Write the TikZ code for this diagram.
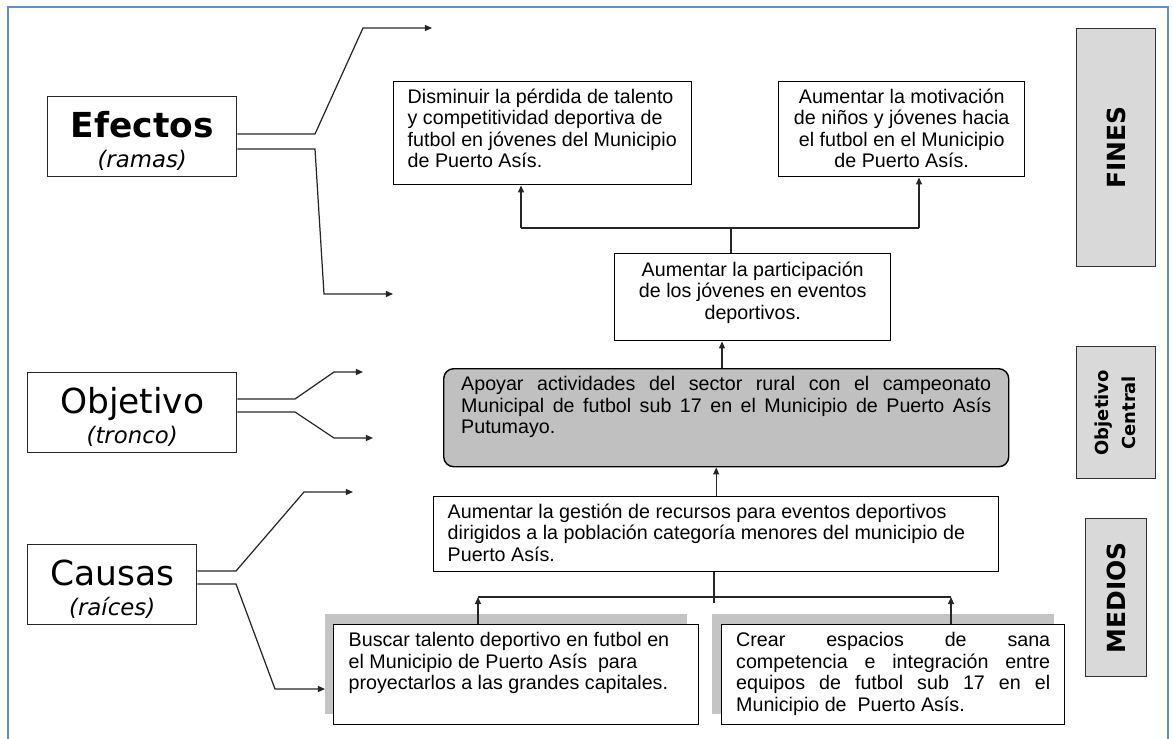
\documentclass[tikz,border=0pt]{standalone}
\usepackage{fontspec}
\setmainfont{Liberation Sans}
\newfontfamily\verdana{DejaVu Sans}
\usetikzlibrary{arrows.meta}

\newdimen\px
\px=0.02cm

\definecolor{marco}{RGB}{96,142,210}
\definecolor{grisobj}{RGB}{192,192,192}
\definecolor{grislado}{RGB}{217,217,217}
\definecolor{sombragris}{RGB}{196,196,196}

\newcommand{\textocaja}{\fontsize{11.2}{12.2}\selectfont}
\newcommand{\bloque}[4]{\parbox[c][#2\px][t]{#1\px}{\tolerance=10000\hbadness=10000\relax#3#4}}
\newcommand{\alto}{\rule{0pt}{34\px}}

\begin{document}
\begin{tikzpicture}[x=0.02cm,y=-0.02cm,
    caja/.style={draw=black,line width=0.8pt,fill=white,inner sep=0pt,anchor=north west,font=\textocaja},
    sombra/.style={fill=sombragris,inner sep=0pt,anchor=north west},
    etiqueta/.style={draw=black!85,line width=0.8pt,inner sep=0pt,anchor=north west,align=center,font=\verdana\fontsize{19.6}{17}\selectfont},
    lado/.style={draw=black!80,line width=0.8pt,fill=grislado,inner sep=0pt,anchor=north west,font=\verdana\bfseries},
    linea/.style={line width=0.7pt,black!85},
    flecha/.style={line width=0.7pt,black!85,-{Triangle[length=4pt,width=3.4pt]}}]
\useasboundingbox (0,0) rectangle (1173,738);
\draw[marco,line width=1.2pt] (8,7) rectangle (1168,760);

\node[etiqueta,minimum width=189\px,minimum height=80\px] (efectos) at (47,96) {\alto{\bfseries Efectos}\\{\fontsize{13}{17}\selectfont\itshape (ramas)}};
\node[etiqueta,minimum width=209\px,minimum height=80\px] (objetivo) at (27,372) {\alto Objetivo\\{\fontsize{13}{17}\selectfont\itshape (tronco)}};
\node[etiqueta,minimum width=169\px,minimum height=80\px] (causas) at (27,544) {\alto Causas\\{\fontsize{13}{17}\selectfont\itshape (raíces)}};

\node[lado,minimum width=79\px,minimum height=238\px] (fines) at (1076,28) {\rotatebox{90}{\fontsize{14.2}{16}\selectfont FINES}};
\node[lado,minimum width=79\px,minimum height=132\px] (central) at (1076,346) {\rotatebox{90}{\fontsize{10.2}{16.5}\selectfont\begin{tabular}{@{}c@{}}Objetivo\\[-1pt]Central\end{tabular}}};
\node[lado,minimum width=61\px,minimum height=158\px] (medios) at (1085,518) {\rotatebox{90}{\fontsize{14.2}{16}\selectfont MEDIOS}};

\node[caja,minimum width=298\px,minimum height=103\px] (fin1) at (393,81) {\bloque{270}{89}{\raggedright}{Disminuir la pérdida de talento\\ y competitividad deportiva de\\ futbol en jóvenes del Municipio\\ de Puerto Asís.}};
\node[caja,minimum width=246\px,minimum height=95\px] (fin2) at (778,81) {\bloque{222}{81}{\centering}{Aumentar la motivación\\ de niños y jóvenes hacia\\ el futbol en el Municipio\\ de Puerto Asís.}};
\node[caja,minimum width=276\px,minimum height=87\px] (fpart) at (614,253) {\bloque{250}{71}{\centering}{Aumentar la participación\\ de los jóvenes en eventos\\ deportivos.}};
\node[caja,fill=grisobj,rounded corners=10\px,minimum width=565\px,minimum height=98\px] (obj) at (443,368) {\bloque{530}{82}{}{Apoyar actividades del sector rural con el campeonato\linebreak Municipal de futbol sub 17 en el Municipio de Puerto Asís\linebreak Putumayo.}};
\node[caja,minimum width=565\px,minimum height=75\px] (medio) at (433,496) {\bloque{537}{61}{\raggedright}{Aumentar la gestión de recursos para eventos deportivos\\ dirigidos a la población categoría menores del municipio de\\ Puerto Asís.}};

\node[sombra,minimum width=362\px,minimum height=100\px] (c1sombra) at (325,614) {};
\node[caja,minimum width=365\px,minimum height=100\px] (caus1) at (333,624) {\bloque{335}{84}{\raggedright}{Buscar talento deportivo en futbol en\\ el Municipio de Puerto Asís\ \ para\\ proyectarlos a las grandes capitales.}};
\node[sombra,minimum width=342\px,minimum height=100\px] (c2sombra) at (712,614) {};
\node[caja,minimum width=343\px,minimum height=100\px] (caus2) at (721,624) {\bloque{314}{84}{}{Crear espacios de sana\linebreak competencia e integración entre\linebreak equipos de futbol sub 17 en el\linebreak Municipio de\ \ Puerto Asís.}};

\coordinate (ef1) at (315,134);
\coordinate (ef2) at (363,28);
\coordinate (ef3) at (432,28);
\coordinate (ef4) at (315,149);
\coordinate (ef5) at (324,294);
\coordinate (ef6) at (393,294);
\draw[flecha] (efectos.east |- ef1) -- (ef1) -- (ef2) -- (ef3);
\draw[flecha] (efectos.east |- ef4) -- (ef4) -- (ef5) -- (ef6);

\coordinate (ob1) at (295,399);
\coordinate (ob2) at (334,372);
\coordinate (ob3) at (363,372);
\coordinate (ob4) at (295,412);
\coordinate (ob5) at (334,438);
\coordinate (ob6) at (373,438);
\draw[flecha] (objetivo.east |- ob1) -- (ob1) -- (ob2) -- (ob3);
\draw[flecha] (objetivo.east |- ob4) -- (ob4) -- (ob5) -- (ob6);

\coordinate (ca1) at (236,571);
\coordinate (ca2) at (304,492);
\coordinate (ca3) at (353,492);
\coordinate (ca4) at (236,584);
\coordinate (ca5) at (275,689);
\draw[flecha] (causas.east |- ca1) -- (ca1) -- (ca2) -- (ca3);
\draw[flecha] (causas.east |- ca4) -- (ca4) -- (ca5) -- (c1sombra.west |- ca5);

\coordinate (fj) at (731,228);
\coordinate (fa) at (521,228);
\coordinate (fb) at (919,228);
\draw[linea] (fpart.north -| fj) -- (fj);
\draw[linea] (fa) -- (fb);
\draw[flecha] (fa) -- (fa |- fin1.south);
\draw[flecha] (fb) -- (fb |- fin2.south);

\coordinate (pa) at (722,300);
\draw[flecha] (obj.north -| pa) -- (fpart.south -| pa);
\draw[flecha] (medio.north) -- (medio.north |- obj.south);

\coordinate (mj) at (714,603);
\coordinate (ma) at (478,597);
\coordinate (mb) at (951,597);
\draw[linea] (medio.south -| mj) -- (mj);
\draw[linea] (ma) -- (mb);
\draw[flecha] (caus1.north -| ma) -- (ma);
\draw[flecha] (caus2.north -| mb) -- (mb);
\end{tikzpicture}
\end{document}
